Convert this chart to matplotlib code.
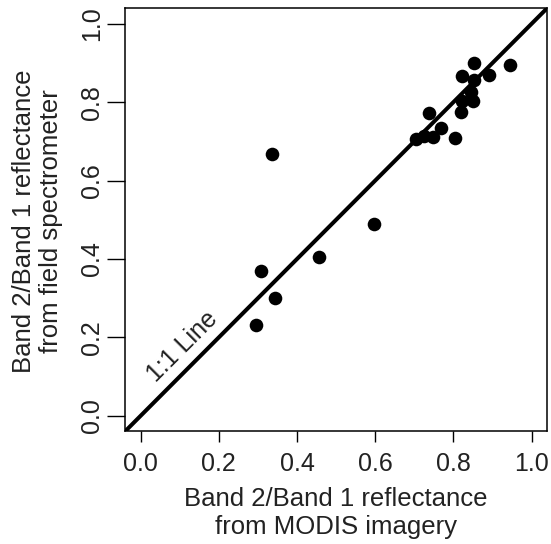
import matplotlib
matplotlib.use("Agg")
import matplotlib.pyplot as plt

plt.rcParams['font.family'] = ['Liberation Sans', 'DejaVu Sans']

# MODIS ratio (x) vs field spectrometer ratio (y)
modis = [0.336, 0.308, 0.344, 0.296, 0.457, 0.598,
         0.852, 0.944, 0.822, 0.891, 0.854, 0.845, 0.850, 0.823,
         0.820, 0.737, 0.768, 0.747, 0.726, 0.704, 0.805]
field = [0.667, 0.369, 0.300, 0.231, 0.405, 0.490,
         0.900, 0.896, 0.868, 0.870, 0.857, 0.827, 0.802, 0.803,
         0.774, 0.773, 0.733, 0.712, 0.715, 0.706, 0.708]
ticks = [0.0, 0.2, 0.4, 0.6, 0.8, 1.0]
tick_labels = ["0.0", "0.2", "0.4", "0.6", "0.8", "1.0"]

fs = 18
fig = plt.figure(figsize=(5.51, 5.44), dpi=100)
ax = fig.add_axes([0.227, 0.207, 0.766, 0.778])

lo, hi = -0.04, 1.04
ax.plot([lo, hi], [lo, hi], color='black', lw=2.9, solid_capstyle='butt')
ax.plot(modis, field, 'o', color='black', markersize=9.8, markeredgewidth=0)

ax.set_xlim(lo, hi)
ax.set_ylim(lo, hi)
ax.set_xticks(ticks)
ax.set_xticklabels(tick_labels)
ax.set_yticks(ticks)
ax.set_yticklabels(tick_labels, rotation=90, va='center')
ax.tick_params(axis='x', direction='out', length=8, width=1.0,
               labelsize=fs, pad=7, labelcolor='#222222')
ax.tick_params(axis='y', direction='out', length=13, width=1.0,
               labelsize=fs, pad=2, labelcolor='#222222')
for s in ax.spines.values():
    s.set_linewidth(1.1)

ax.text(0.106, 0.177, "1:1 Line", rotation=45, ha='center', va='center',
        fontsize=fs, color='#222222')

fig.text(0.61, 0.057, "Band 2/Band 1 reflectance\nfrom MODIS imagery",
         ha='center', va='center', multialignment='center',
         fontsize=18.5, color='#222222', linespacing=1.2)
fig.text(0.068, 0.594, "Band 2/Band 1 reflectance\nfrom field spectrometer",
         ha='center', va='center', multialignment='center', rotation=90,
         fontsize=18.5, color='#222222', linespacing=1.2)

fig.savefig("out.png", dpi=100)
